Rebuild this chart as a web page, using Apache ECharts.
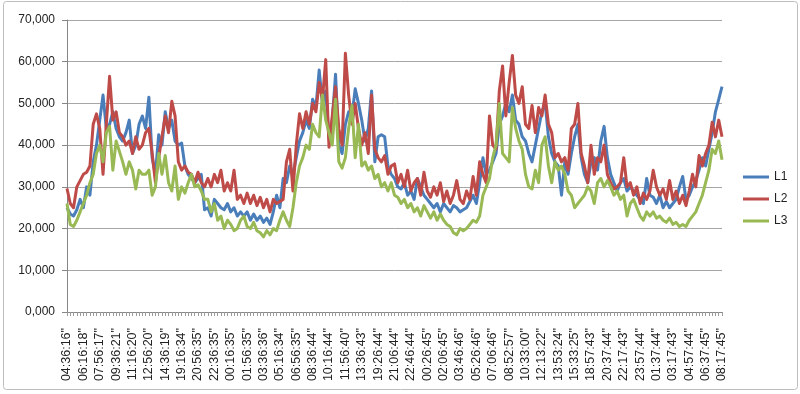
<!DOCTYPE html>
<html>
<head>
<meta charset="utf-8">
<script src="https://cdn.jsdelivr.net/npm/echarts@6/dist/echarts.min.js"></script>
<style>html,body{margin:0;padding:0;background:#fff}#c{width:800px;height:394px}</style>
</head>
<body>
<div id="c"></div>
<script>
// Tick labels on the category axis (one every 5 samples)
const tickLabels = ["04:36:16\"","06:16:18\"","07:56:17\"","09:36:21\"","11:16:20\"","12:56:20\"","14:36:19\"","19:16:34\"","20:56:35\"","22:36:35\"","00:16:35\"","01:56:35\"","03:36:36\"","05:16:34\"","06:56:35\"","08:36:44\"","10:16:44\"","11:56:40\"","13:36:43\"","19:26:44\"","21:06:44\"","22:46:44\"","00:26:45\"","02:06:45\"","03:46:46\"","05:26:46\"","07:06:46\"","08:52:57\"","10:33:00\"","12:13:22\"","13:53:24\"","15:33:25\"","18:57:43\"","20:37:44\"","22:17:43\"","23:57:44\"","01:37:44\"","03:17:43\"","04:57:44\"","06:37:45\"","08:17:45\""];
const seriesNames = ["L1","L2","L3"];
const L1 = [25,23.5,23,24.5,27,25,30,28,36,40,46,52,44,45,48,44,42,41,43,46,38,40,45,47,44,51.5,37,33,42.5,40,48,44,46,41,40,40.5,35,33,32,31,
32,33,24.5,25,23,27,26,25,24.5,26,24,25,23,24,23,24,22,23.5,22,23,21.5,22.5,21,24,28,25,32,31,35,33,37,41,43,46,44,51,49,58,50,53,
41.5,46,57,40,38,45,48,47,53.5,50,46,41,44,53,36,42,42.5,42,35,33,32,30,29.5,31,28,29,27,32,30,28,27,26,25,26,24,26,25,24,25.5,25,
24,24.5,25,26.5,28,26,31,37,33,34,36,38,45,47,50,48,52,46,45,42,41,38,36,40,44,48,50,42,38,36,35,28,36,33,38,42,45,37,33,31,
36,37,34,41,44.5,37,33,31,29,31,32,29,30,29,28,27,26,32,28,27.5,26,28,25,26.5,25,26,27,30,32.5,27,28,30,31.5,34,37,35,39,43,48,51,54];
const L2 = [29.6,26,25,30,31.5,33,33.5,35,45,47.5,44,33,45,56.5,46,48,43,42,40,41,38,42,39,40,43,44,38,31,37,42,47,43,50.5,47,36,34,35,33.5,33,31,
33.5,31,30,32,30,33,31,34,29,31,29,34,27,28,26,28.5,26,28,25.5,27.5,25,27,24,27,26,26.5,27,36,39,29,40,47.5,44,48,45,50,48,55,51,60.5,
39.5,47,54,44,40,62,52,45,50,44,40,43,38,52,39,37,36,37.5,33,35,35.5,31,33,30,34,29,31,32,28,33.5,29,27.5,30,28,31,26.5,29,26,28,31.5,
27,26,29,27,32.5,28,36,33,31,47,40,39,53,59,47,55,61.5,52,50,54,45,44,49.5,43,49,47,52,45,43,37,38,36,37,34,44,45,50,38,35,31,
40,33,37,36,40,33,31,29.5,30,31,37,30,31,28,30,26,28.5,27,29,34,30,28,29.5,27,31.5,27,29,26,28,25.5,29,33,30,37.5,35,38,40,45.5,42,46,42];
const L3 = [26,21,20.5,22,24,26,28,31,33,38,40,36,43,44.5,34,41,38.5,36,33,36,34,29.5,34,33,33,34,28,30,38,33,37.5,31,29,35,27,30,28.5,31,33,30,
30.5,29,27,27,24,26,22,23,20,22,21,19.5,20,22,23,20.5,20,21.5,19.5,19,18,19.5,18.5,20,19.5,22,24,22,20.5,25,31,35,37,40,39,45,43,42,52,46,
43,40,51,36,34.5,37,44,49.5,37,45,35,36,34,35,32,33,30,31,29,31,28,27.5,26,27,25,26,24,25,23,25.5,24,22.5,24,22,23.5,22,21,20.5,19,18.5,
20,19.5,20,21,22,21.5,23,28,30,32,37,40,50,38,37,36,49,44,41,39,33,30,29.5,34,31,40,42,35,31,36,34,35,33,29,28,25,26,27,28,30,
29,26,31,32,30,31.5,30,28,29,27,28,23,26,27,25,23,22,24,23,24,22.5,23,22,21.5,22.5,21,21.5,20.5,21,20.5,22,23,24,26,28,31,34,39,38,41,36.5];
const seriesValues = [L1, L2, L3];
const colors = ["#4A7EBB", "#BE4B48", "#98B954"];
const step = 5;
const categories = L1.map((_, i) => String(i));

const font = "'Liberation Sans', Arial, sans-serif";
const chart = echarts.init(document.getElementById('c'), null, {renderer: 'canvas'});
chart.setOption({
  animation: false,
  backgroundColor: '#fff',
  graphic: [{
    type: 'rect', shape: {x: 3.5, y: 1.5, width: 794, height: 388, r: 3},
    style: {fill: 'none', stroke: '#BDBDBD', lineWidth: 1}, silent: true, z: -10
  }],
  grid: {left: 67, right: 78, top: 20, bottom: 82},
  legend: {
    orient: 'vertical', left: 738, top: 166, itemGap: 10,
    itemWidth: 26, itemHeight: 3, icon: 'rect',
    data: seriesNames,
    textStyle: {fontFamily: font, fontSize: 12, color: '#222'}
  },
  xAxis: {
    type: 'category', data: categories, boundaryGap: false,
    axisLine: {lineStyle: {color: '#868686', width: 1}},
    axisTick: {show: true, interval: 0, length: 4, lineStyle: {color: '#9A9A9A'}},
    axisLabel: {
      interval: step - 1, rotate: 90, margin: 16,
      fontFamily: font, fontSize: 12.5, color: '#222',
      formatter: (v, idx) => tickLabels[idx / step] || ''
    },
    splitLine: {show: false}
  },
  yAxis: {
    type: 'value', min: 0, max: 70, interval: 10,
    axisLine: {show: true, lineStyle: {color: '#868686'}},
    axisTick: {show: true, length: 5, lineStyle: {color: '#868686'}},
    axisLabel: {
      margin: 12, fontFamily: font, fontSize: 12, color: '#222',
      formatter: v => v.toFixed(3).replace('.', ',')
    },
    splitLine: {lineStyle: {color: '#A6A6A6', width: 1}}
  },
  series: seriesNames.map((n, k) => ({
    name: n, type: 'line', data: seriesValues[k], showSymbol: false,
    color: colors[k],
    lineStyle: {width: 3, color: colors[k], join: 'round'},
    z: 2 + k
  }))
});
</script>
</body>
</html>
